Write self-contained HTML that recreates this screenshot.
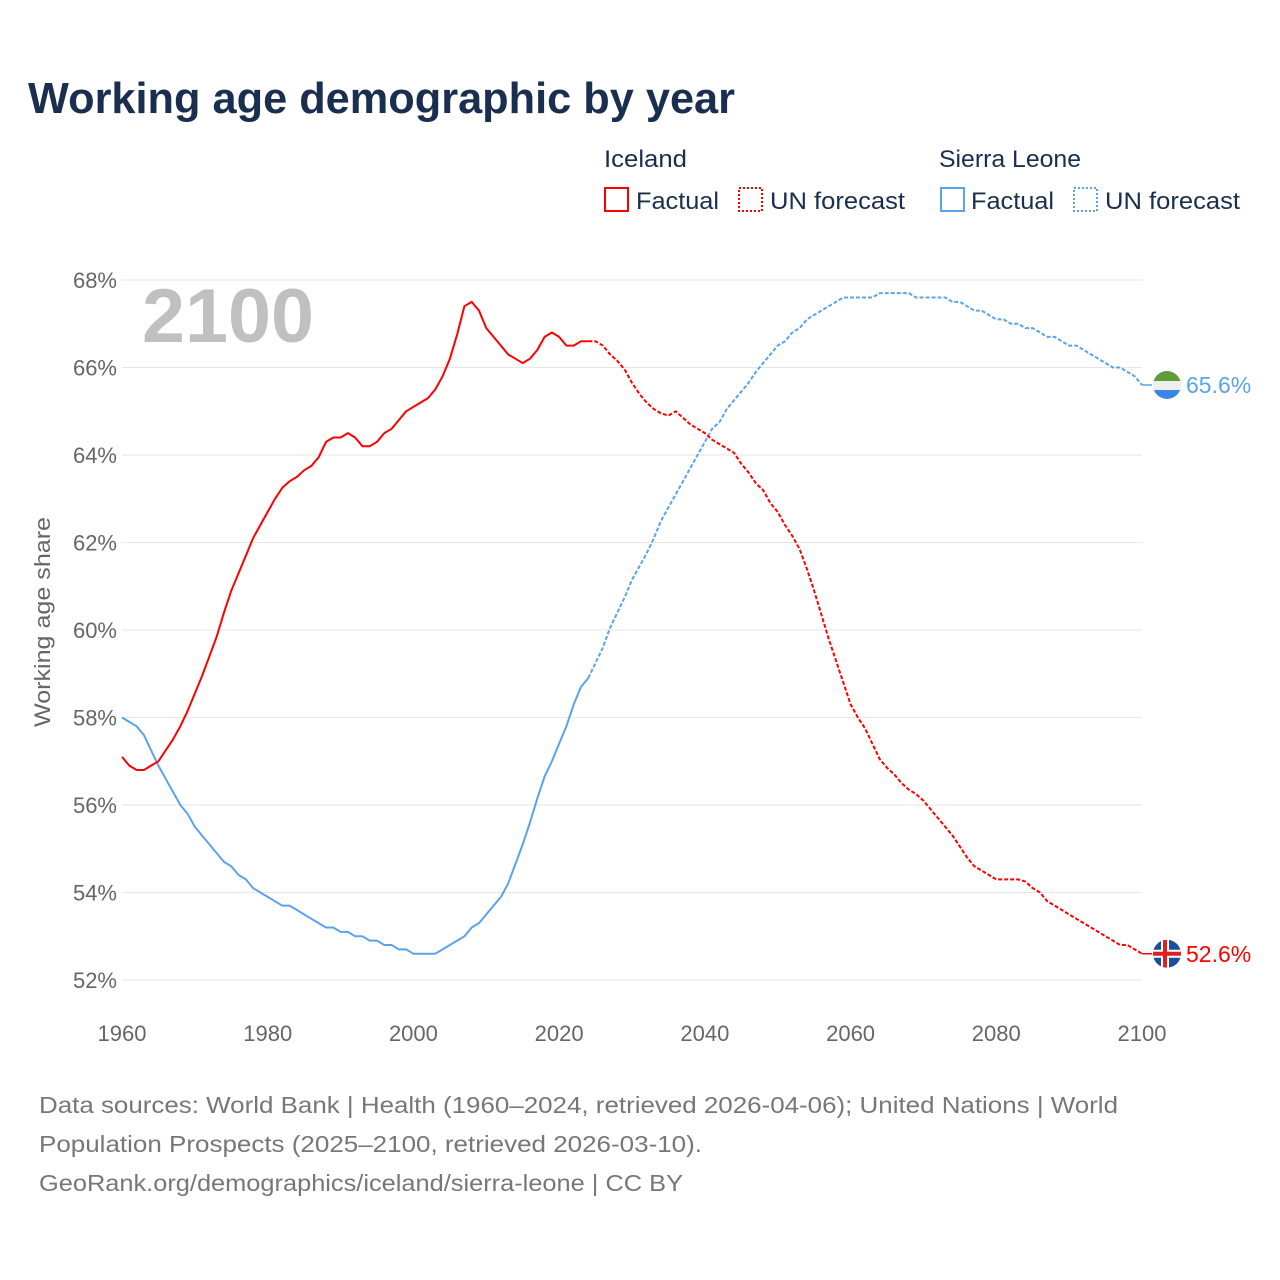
<!DOCTYPE html>
<html><head><meta charset="utf-8"><style>
html,body{margin:0;padding:0;background:#fff}
svg{display:block;font-family:"Liberation Sans",sans-serif}
</style></head><body>
<svg id="chart" width="1280" height="1280" viewBox="0 0 1280 1280">
<text x="28" y="113" font-size="44" font-weight="bold" fill="#1a2e4f" textLength="707" lengthAdjust="spacingAndGlyphs">Working age demographic by year</text>
<g font-size="24" fill="#1a2e4f">
<text x="604" y="167" textLength="83" lengthAdjust="spacingAndGlyphs">Iceland</text>
<text x="939" y="167" textLength="142" lengthAdjust="spacingAndGlyphs">Sierra Leone</text>
<g><rect x="605" y="188" width="23" height="23" fill="none" stroke="#f00" stroke-width="2"/><text x="636" y="209" textLength="83" lengthAdjust="spacingAndGlyphs">Factual</text></g>
<g><rect x="739" y="188" width="23" height="23" fill="none" stroke="#f00" stroke-width="2" stroke-dasharray="2,2"/><text x="770" y="209" textLength="135" lengthAdjust="spacingAndGlyphs">UN forecast</text></g>
<g><rect x="941" y="188" width="23" height="23" fill="none" stroke="#5ba3ea" stroke-width="2"/><text x="971" y="209" textLength="83" lengthAdjust="spacingAndGlyphs">Factual</text></g>
<g><rect x="1074" y="188" width="23" height="23" fill="none" stroke="#5ba3ea" stroke-width="2" stroke-dasharray="2,2"/><text x="1105" y="209" textLength="135" lengthAdjust="spacingAndGlyphs">UN forecast</text></g>
</g>
<g id="grid"></g>
<text x="142" y="342" font-size="76" font-weight="bold" fill="#c0c0c0" textLength="172" lengthAdjust="spacingAndGlyphs">2100</text>
<text transform="translate(50,622) rotate(-90)" text-anchor="middle" font-size="22" fill="#666" textLength="210" lengthAdjust="spacingAndGlyphs">Working age share</text>
<g id="series"></g>
<g id="endmarks"></g>
<g font-size="23" fill="#777">
<text x="39" y="1113" textLength="1079" lengthAdjust="spacingAndGlyphs">Data sources: World Bank | Health (1960–2024, retrieved 2026-04-06); United Nations | World</text>
<text x="39" y="1152" textLength="663" lengthAdjust="spacingAndGlyphs">Population Prospects (2025–2100, retrieved 2026-03-10).</text>
<text x="39" y="1191" textLength="644" lengthAdjust="spacingAndGlyphs">GeoRank.org/demographics/iceland/sierra-leone | CC BY</text>
</g>
</svg>
<script>
const yTicks=[52,54,56,58,60,62,64,66,68];
const xTicks=[1960,1980,2000,2020,2040,2060,2080,2100];
const icelandFactual=[57.1,56.9,56.8,56.8,56.9,57.0,57.25,57.5,57.8,58.15,58.55,58.95,59.4,59.85,60.4,60.9,61.3,61.7,62.1,62.4,62.7,63.0,63.25,63.4,63.5,63.65,63.75,63.95,64.3,64.4,64.4,64.5,64.4,64.2,64.2,64.3,64.5,64.6,64.8,65.0,65.1,65.2,65.3,65.5,65.8,66.2,66.75,67.4,67.5,67.3,66.9,66.7,66.5,66.3,66.2,66.1,66.2,66.4,66.7,66.8,66.7,66.5,66.5,66.6,66.6];
const icelandForecast=[66.6,66.6,66.5,66.3,66.15,65.95,65.65,65.4,65.2,65.05,64.95,64.9,65.0,64.85,64.7,64.6,64.5,64.35,64.25,64.15,64.05,63.8,63.6,63.35,63.2,62.9,62.7,62.4,62.15,61.85,61.4,60.9,60.35,59.8,59.3,58.8,58.3,58.0,57.75,57.4,57.05,56.85,56.7,56.5,56.35,56.25,56.1,55.9,55.7,55.5,55.3,55.05,54.8,54.6,54.5,54.4,54.3,54.3,54.3,54.3,54.25,54.1,54.0,53.8,53.7,53.6,53.5,53.4,53.3,53.2,53.1,53.0,52.9,52.8,52.8,52.7,52.6];
const sierraFactual=[58.0,57.9,57.8,57.6,57.25,56.9,56.6,56.3,56.0,55.8,55.5,55.3,55.1,54.9,54.7,54.6,54.4,54.3,54.1,54.0,53.9,53.8,53.7,53.7,53.6,53.5,53.4,53.3,53.2,53.2,53.1,53.1,53.0,53.0,52.9,52.9,52.8,52.8,52.7,52.7,52.6,52.6,52.6,52.6,52.7,52.8,52.9,53.0,53.2,53.3,53.5,53.7,53.9,54.2,54.65,55.1,55.6,56.15,56.65,57.0,57.4,57.8,58.3,58.7,58.9];
const sierraForecast=[58.9,59.25,59.6,60.05,60.4,60.75,61.15,61.45,61.75,62.1,62.5,62.8,63.1,63.4,63.7,64.0,64.3,64.6,64.75,65.05,65.25,65.45,65.65,65.9,66.1,66.3,66.5,66.6,66.8,66.9,67.1,67.2,67.3,67.4,67.5,67.6,67.6,67.6,67.6,67.6,67.7,67.7,67.7,67.7,67.7,67.6,67.6,67.6,67.6,67.6,67.5,67.5,67.4,67.3,67.3,67.2,67.1,67.1,67.0,67.0,66.9,66.9,66.8,66.7,66.7,66.6,66.5,66.5,66.4,66.3,66.2,66.1,66.0,66.0,65.9,65.8,65.6];
const NS='http://www.w3.org/2000/svg';
const xS=y=>122+(y-1960)*(1020/140);
const yS=v=>980-(v-52)*43.75;
function mk(tag,attrs,parent){const e=document.createElementNS(NS,tag);for(const k in attrs)e.setAttribute(k,attrs[k]);parent.appendChild(e);return e;}
const grid=document.getElementById('grid');
yTicks.forEach(t=>{
  const l=mk('line',{x1:122,x2:1142,y1:yS(t),y2:yS(t),stroke:'#e6e6e6','stroke-width':1},grid);
  
  
  const tx=mk('text',{x:117,y:yS(t)+8,'text-anchor':'end','font-size':22,fill:'#666'},grid);
  tx.textContent=t+'%';
  
  
});
xTicks.forEach(t=>{
  const tx=mk('text',{x:xS(t),y:1041,'text-anchor':'middle','font-size':22,fill:'#666'},grid);
  tx.textContent=t;
  
  
});
const ser=document.getElementById('series');
function line(vals,start,color,dash,name){
  const d=vals.map((v,i)=>(i?'L':'M')+xS(start+i).toFixed(1)+','+yS(v).toFixed(1)).join('');
  const p=mk('path',{d:d,fill:'none',stroke:color,'stroke-width':2,'stroke-linejoin':'round'},ser);
  if(dash)p.setAttribute('stroke-dasharray','4,2');
  
  
}
line(sierraFactual,1960,'#5ba3ea',false,'sierra-leone-factual-line');
line(sierraForecast,2024,'#5ba3ea',true,'sierra-leone-forecast-line');
line(icelandFactual,1960,'#f00',false,'iceland-factual-line');
line(icelandForecast,2024,'#f00',true,'iceland-forecast-line');
const em=document.getElementById('endmarks');
function endmark(v,color,name,flag){
  const y=yS(v), x=1167;
  const g=mk('g',{},em);
  
  
  mk('line',{x1:1142,x2:1152,y1:y,y2:y,stroke:color,'stroke-width':1.5},g);
  const cid='c'+name;
  const cp=mk('clipPath',{id:cid},g);mk('circle',{cx:x,cy:y,r:14},cp);
  const fg=mk('g',{'clip-path':'url(#'+cid+')'},g);
  if(flag==='sl'){
    mk('rect',{x:x-14,y:y-14,width:28,height:10,fill:'#5e9e3a'},fg);
    mk('rect',{x:x-14,y:y-4,width:28,height:9,fill:'#eee'},fg);
    mk('rect',{x:x-14,y:y+5,width:28,height:10,fill:'#3a86e8'},fg);
  } else {
    mk('rect',{x:x-14,y:y-14,width:28,height:28,fill:'#1a4fa0'},fg);
    mk('rect',{x:x-14,y:y-4,width:28,height:8,fill:'#fff'},fg);
    mk('rect',{x:x-6,y:y-14,width:8,height:28,fill:'#fff'},fg);
    mk('rect',{x:x-14,y:y-2,width:28,height:4,fill:'#e02020'},fg);
    mk('rect',{x:x-4,y:y-14,width:4,height:28,fill:'#e02020'},fg);
  }
  const t=mk('text',{x:1186,y:y+8,'font-size':23,fill:color},g);
  t.textContent=v.toFixed(1)+'%';
}
endmark(sierraForecast[sierraForecast.length-1],'#5ba3ea','sierra-leone-end-label','sl');
endmark(icelandForecast[icelandForecast.length-1],'#f00','iceland-end-label','is');
</script>
</body></html>
